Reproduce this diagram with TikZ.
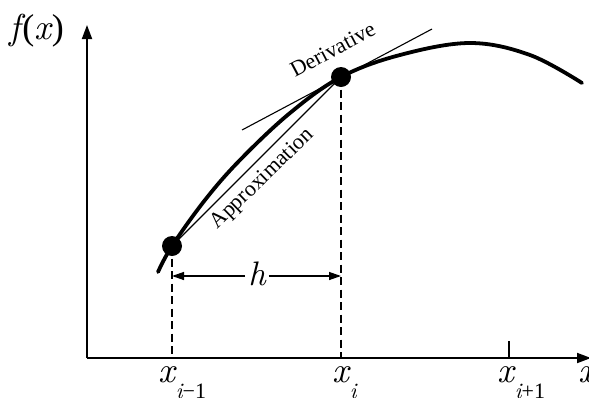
\documentclass[tikz,border=0pt]{standalone}
\usepackage{fontspec}
\setmainfont{Liberation Serif}
\newfontfamily\lmit{lmroman10-italic}[Extension=.otf]
\usetikzlibrary{arrows.meta}
\newcommand{\iv}[1]{{\lmit #1}}
\newcommand{\xlab}[1]{\iv{x}\kern1pt\raisebox{-16pt}{\fontsize{22}{22}\selectfont #1}}
\begin{document}
\begin{tikzpicture}[x=1pt,y=-1pt,
  axis/.style={line width=1.8pt,-{Triangle[length=14pt,width=10pt]}},
  curve/.style={line width=3.8pt,line cap=round},
  thinline/.style={line width=1.1pt},
  guide/.style={line width=1.3pt,dash pattern=on 8pt off 4.5pt},
  dimarrow/.style={line width=1.3pt,-{Triangle[length=12pt,width=8pt]}},
  dotnode/.style={circle,fill=black,minimum size=20pt,inner sep=0pt},
  axlab/.style={font=\fontsize{36}{36}\selectfont,inner sep=0pt,anchor=base west},
  txt/.style={font=\fontsize{22}{22}\selectfont,inner sep=0pt,anchor=base},
]
\useasboundingbox (0,0) rectangle (589,397);
% axes
\coordinate (O) at (87,358);
\coordinate (ytip) at (87,25);
\coordinate (xtip) at (591,358);
\draw[axis] (O) -- (ytip);
\draw[axis] (O) -- (xtip);
% curve
\draw[curve] plot[smooth,tension=0.6] coordinates {(158,272) (172,246) (205,200) (240,160) (290,113) (341,77) (400,55) (470,43) (530,55) (582,83)};
% points
\node[dotnode] (A) at (172,246) {};
\node[dotnode] (B) at (341,77) {};
% tangent and secant
\coordinate (t1) at (242,130);
\coordinate (t2) at (432,29);
\draw[thinline] (t1) -- (t2);
\draw[thinline] (A.center) -- (B.center);
% guides
\coordinate (xa) at (172,358);
\coordinate (xb) at (341,358);
\coordinate (xc) at (509,358);
\coordinate (xct) at (509,341);
\draw[guide] (A.center) -- (xa);
\draw[guide] (B.center) -- (xb);
\draw[line width=1.3pt] (xc) -- (xct);
% h
\node[font=\fontsize{34}{34}\selectfont,inner sep=3pt] (h) at (257,274) {\iv{h}};
\coordinate (hl) at (172,276);
\coordinate (hr) at (341,276);
\draw[dimarrow] (h.west |- hl) -- (hl);
\draw[dimarrow] (h.east |- hr) -- (hr);
% labels
\node[axlab] (lf) at (9,39) {\fontsize{36}{36}\selectfont\iv{f}\kern2pt(\iv{x}\kern1pt)};
\node[axlab] (l1) at (158,382) {\xlab{\iv{i}−1}};
\node[axlab] (l2) at (332,382) {\xlab{\iv{i}}};
\node[axlab] (l3) at (497,382) {\xlab{\iv{i}+1}};
\node[axlab] (l4) at (578,382) {\iv{x}};
\node[txt,rotate=28] (der) at (336,56) {Derivative};
\node[txt,rotate=44] (app) at (266,183) {Approximation};
\end{tikzpicture}
\end{document}
